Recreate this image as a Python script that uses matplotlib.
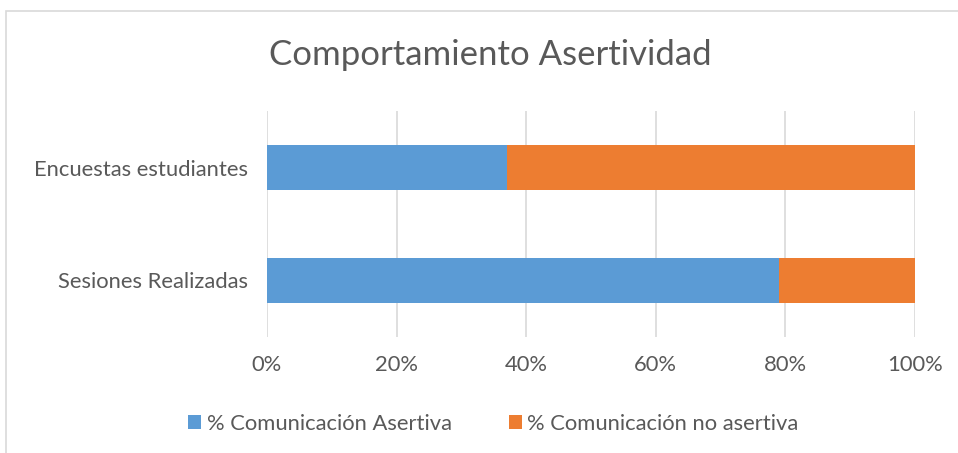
import matplotlib
matplotlib.use('Agg')
import matplotlib.pyplot as plt
from matplotlib.patches import Rectangle

# Datos
categorias = ["Sesiones Realizadas", "Encuestas estudiantes"]
asertiva = [79, 37]
no_asertiva = [21, 63]
etiquetas_x = ["0%", "20%", "40%", "60%", "80%", "100%"]

plt.rcParams['font.family'] = ['Lato', 'DejaVu Sans']
gris = "#595959"

fig = plt.figure(figsize=(9.58, 4.53), dpi=100)
ax = fig.add_axes([267/958, 1-337/453, 648/958, 226/453])

y = range(len(categorias))
ax.barh(y, asertiva, height=0.4, color="#5B9BD5", label="% Comunicación Asertiva", zorder=3)
ax.barh(y, no_asertiva, left=asertiva, height=0.4, color="#ED7D31",
        label="% Comunicación no asertiva", zorder=3)

ax.set_xlim(0, 100)
ax.set_ylim(-0.5, 1.5)
ax.set_xticks([0, 20, 40, 60, 80, 100])
ax.set_xticklabels(etiquetas_x)
ax.set_yticks(list(y))
ax.set_yticklabels(categorias)
ax.tick_params(length=0, labelsize=15.8, colors=gris, pad=14)
ax.tick_params(axis='x', pad=13)
ax.grid(axis='x', color="#D9D9D9", linewidth=1.2, zorder=0)
for s in ax.spines.values():
    s.set_visible(False)

fig.text(0.512, 1-55/453, "Comportamiento Asertividad", ha='center', va='center',
         fontsize=25, color=gris)

fig.legend(loc='center', bbox_to_anchor=(0.515, 1-424/453), ncol=2, frameon=False,
           fontsize=15.8, labelcolor=gris, handlelength=0.6, handleheight=0.6,
           handletextpad=0.25, columnspacing=2.6)

# borde del grafico
fig.patches.append(Rectangle((6/958, -0.01), 1.0, 1-11/453+0.01, transform=fig.transFigure,
                             fill=False, edgecolor="#D9D9D9", linewidth=1.2))

fig.savefig("out.png", dpi=100)
